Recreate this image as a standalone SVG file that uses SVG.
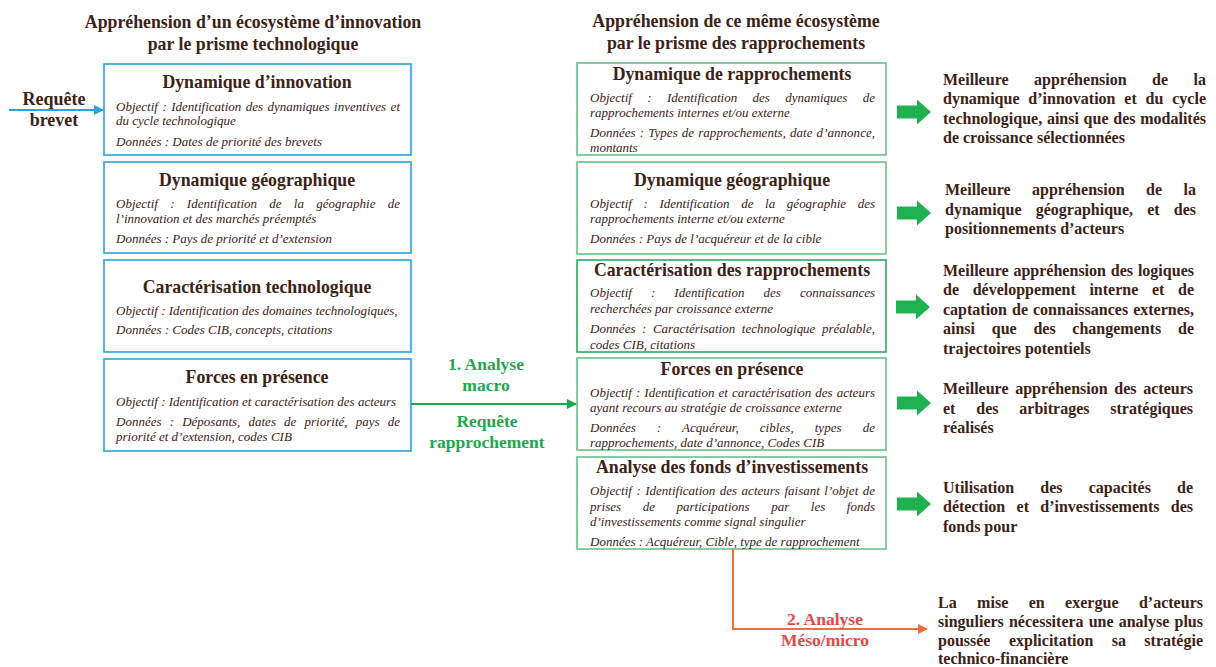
<svg xmlns="http://www.w3.org/2000/svg" xmlns:xlink="http://www.w3.org/1999/xlink" width="1216" height="667" viewBox="0 0 1216 667">
<style>
  text { font-family: "Liberation Serif", "Times New Roman", serif; fill: #3d2216; }
  .h { font-size: 17.8px; font-weight: bold; text-anchor: middle; }
  .t { font-size: 17.8px; font-weight: bold; text-anchor: middle; }
  .b { font-size: 13px; font-style: italic; }
  .r { font-size: 16px; font-weight: bold; }
  .bl { fill: #ffffff; stroke: #2aa3dc; stroke-width: 1.6; }
  .gr { fill: #ffffff; stroke: #66c287; stroke-width: 1.6; }
  .gr2 { fill: #ffffff; stroke: #2eaa5c; stroke-width: 1.6; }
  .lg { font-size: 17.5px; font-weight: bold; text-anchor: middle; fill: #1ea84e; }
  .lo { font-size: 17.5px; font-weight: bold; text-anchor: middle; fill: #e8474a; }
  .lb { font-size: 18px; font-weight: bold; text-anchor: middle; }
</style>
<defs>
  <marker id="ab" viewBox="0 0 10 10" refX="9" refY="5" markerWidth="5" markerHeight="5" orient="auto" markerUnits="strokeWidth"><path d="M0,0 L10,5 L0,10 z" fill="#2aa3dc"/></marker>
  <marker id="ag" viewBox="0 0 10 10" refX="9" refY="5" markerWidth="5" markerHeight="5" orient="auto" markerUnits="strokeWidth"><path d="M0,0 L10,5 L0,10 z" fill="#1aa84c"/></marker>
  <marker id="ao" viewBox="0 0 10 10" refX="9" refY="5" markerWidth="5" markerHeight="5" orient="auto" markerUnits="strokeWidth"><path d="M0,0 L10,5 L0,10 z" fill="#ef6c3c"/></marker>
  <path id="blk" d="M0,-6.5 L20,-6.5 L20,-12.5 L34,0 L20,12.5 L20,6.5 L0,6.5 z" fill="#1fb04f"/>
</defs>

<!-- Headings -->
<g id="heading-left">
  <text class="h" x="253" y="28">Appréhension d’un écosystème d’innovation</text>
  <text class="h" x="253" y="50">par le prisme technologique</text>
</g>
<g id="heading-right">
  <text class="h" x="736" y="27">Appréhension de ce même écosystème</text>
  <text class="h" x="736" y="49">par le prisme des rapprochements</text>
</g>

<!-- Left column -->
<g id="l1">
  <rect class="bl" x="104" y="64" width="307" height="91"/>
  <text class="t" x="257" y="88">Dynamique d’innovation</text>
  <text class="b" x="116" y="111" word-spacing="1.2" textLength="284" lengthAdjust="spacing">Objectif : Identification des dynamiques inventives et</text>
  <text class="b" x="116" y="125">du cycle technologique</text>
  <text class="b" x="116" y="146">Données : Dates de priorité des brevets</text>
</g>
<g id="l2">
  <rect class="bl" x="104" y="162" width="307" height="91"/>
  <text class="t" x="257" y="186">Dynamique géographique</text>
  <text class="b" x="116" y="208" word-spacing="9" textLength="284" lengthAdjust="spacing">Objectif : Identification de la géographie de</text>
  <text class="b" x="116" y="223">l’innovation et des marchés préemptés</text>
  <text class="b" x="116" y="243">Données : Pays de priorité et d’extension</text>
</g>
<g id="l3">
  <rect class="bl" x="104" y="260" width="307" height="92"/>
  <text class="t" x="257" y="293">Caractérisation technologique</text>
  <text class="b" x="116" y="315">Objectif : Identification des domaines technologiques,</text>
  <text class="b" x="116" y="334">Données : Codes CIB, concepts, citations</text>
</g>
<g id="l4">
  <rect class="bl" x="104" y="359" width="307" height="92"/>
  <text class="t" x="257" y="383">Forces en présence</text>
  <text class="b" x="116" y="406">Objectif : Identification et caractérisation des acteurs</text>
  <text class="b" x="116" y="426" word-spacing="4.9" textLength="284" lengthAdjust="spacing">Données : Déposants, dates de priorité, pays de</text>
  <text class="b" x="116" y="441">priorité et d’extension, codes CIB</text>
</g>

<!-- Right column -->
<g id="r1">
  <rect class="gr" x="577" y="63" width="309" height="92"/>
  <text class="t" x="732" y="80">Dynamique de rapprochements</text>
  <text class="b" x="590" y="102" word-spacing="12.1" textLength="285" lengthAdjust="spacing">Objectif : Identification des dynamiques de</text>
  <text class="b" x="590" y="117">rapprochements internes et/ou externe</text>
  <text class="b" x="590" y="137" word-spacing="0.8" textLength="285" lengthAdjust="spacing">Données : Types de rapprochements, date d’annonce,</text>
  <text class="b" x="590" y="152">montants</text>
</g>
<g id="r2">
  <rect class="gr" x="577" y="162" width="309" height="92"/>
  <text class="t" x="732" y="186">Dynamique géographique</text>
  <text class="b" x="590" y="208" word-spacing="8.4" textLength="285" lengthAdjust="spacing">Objectif : Identification de la géographie des</text>
  <text class="b" x="590" y="223">rapprochements interne et/ou externe</text>
  <text class="b" x="590" y="243">Données : Pays de l’acquéreur et de la cible</text>
</g>
<g id="r3">
  <rect class="gr2" x="577" y="260" width="309" height="92"/>
  <text class="t" x="732" y="276">Caractérisation des rapprochements</text>
  <text class="b" x="590" y="297" word-spacing="15.8" textLength="285" lengthAdjust="spacing">Objectif : Identification des connaissances</text>
  <text class="b" x="590" y="313">recherchées par croissance externe</text>
  <text class="b" x="590" y="333" word-spacing="3.3" textLength="285" lengthAdjust="spacing">Données : Caractérisation technologique préalable,</text>
  <text class="b" x="590" y="349">codes CIB, citations</text>
</g>
<g id="r4">
  <rect class="gr" x="577" y="358" width="309" height="92"/>
  <text class="t" x="732" y="375">Forces en présence</text>
  <text class="b" x="590" y="397" word-spacing="0.8" textLength="285" lengthAdjust="spacing">Objectif : Identification et caractérisation des acteurs</text>
  <text class="b" x="590" y="412">ayant recours au stratégie de croissance externe</text>
  <text class="b" x="590" y="432" word-spacing="17.6" textLength="285" lengthAdjust="spacing">Données : Acquéreur, cibles, types de</text>
  <text class="b" x="590" y="447">rapprochements, date d’annonce, Codes CIB</text>
</g>
<g id="r5">
  <rect class="gr" x="577" y="457" width="309" height="92"/>
  <text class="t" x="732" y="473">Analyse des fonds d’investissements</text>
  <text class="b" x="590" y="495" word-spacing="1.2" textLength="285" lengthAdjust="spacing">Objectif : Identification des acteurs faisant l’objet de</text>
  <text class="b" x="590" y="511" word-spacing="18.3" textLength="285" lengthAdjust="spacing">prises de participations par les fonds</text>
  <text class="b" x="590" y="526">d’investissements comme signal singulier</text>
  <text class="b" x="590" y="546">Données : Acquéreur, Cible, type de rapprochement</text>
</g>

<!-- Outcomes -->
<g id="o1">
  <text class="r" x="943" y="85" word-spacing="21.4" textLength="263" lengthAdjust="spacing">Meilleure appréhension de la</text>
  <text class="r" x="943" y="104" word-spacing="4.8" textLength="263" lengthAdjust="spacing">dynamique d’innovation et du cycle</text>
  <text class="r" x="943" y="124" word-spacing="0.7" textLength="263" lengthAdjust="spacing">technologique, ainsi que des modalités</text>
  <text class="r" x="943" y="143">de croissance sélectionnées</text>
</g>
<g id="o2">
  <text class="r" x="945" y="195" word-spacing="17.4" textLength="251" lengthAdjust="spacing">Meilleure appréhension de la</text>
  <text class="r" x="945" y="215" word-spacing="10.1" textLength="251" lengthAdjust="spacing">dynamique géographique, et des</text>
  <text class="r" x="945" y="234">positionnements d’acteurs</text>
</g>
<g id="o3">
  <text class="r" x="943" y="276" word-spacing="0.8" textLength="251" lengthAdjust="spacing">Meilleure appréhension des logiques</text>
  <text class="r" x="943" y="295" word-spacing="9.6" textLength="251" lengthAdjust="spacing">de développement interne et de</text>
  <text class="r" x="943" y="315" word-spacing="1" textLength="251" lengthAdjust="spacing">captation de connaissances externes,</text>
  <text class="r" x="943" y="334" word-spacing="12.7" textLength="251" lengthAdjust="spacing">ainsi que des changements de</text>
  <text class="r" x="943" y="354">trajectoires potentiels</text>
</g>
<g id="o4">
  <text class="r" x="943" y="394" word-spacing="2.6" textLength="250" lengthAdjust="spacing">Meilleure appréhension des acteurs</text>
  <text class="r" x="943" y="414" word-spacing="16.8" textLength="250" lengthAdjust="spacing">et des arbitrages stratégiques</text>
  <text class="r" x="943" y="433">réalisés</text>
</g>
<g id="o5">
  <text class="r" x="943" y="493" word-spacing="22.1" textLength="250" lengthAdjust="spacing">Utilisation des capacités de</text>
  <text class="r" x="943" y="512" word-spacing="7.3" textLength="250" lengthAdjust="spacing">détection et d’investissements des</text>
  <text class="r" x="943" y="532">fonds pour</text>
</g>
<g id="o6">
  <text class="r" x="938" y="608" word-spacing="16.4" textLength="265" lengthAdjust="spacing">La mise en exergue d’acteurs</text>
  <text class="r" x="938" y="627" word-spacing="1.1" textLength="265" lengthAdjust="spacing">singuliers nécessitera une analyse plus</text>
  <text class="r" x="938" y="646" word-spacing="14.4" textLength="265" lengthAdjust="spacing">poussée explicitation sa stratégie</text>
  <text class="r" x="938" y="664">technico-financière</text>
</g>

<!-- Connectors -->
<g id="connectors">
  <line x1="9" y1="110" x2="103" y2="110" stroke="#2aa3dc" stroke-width="2" marker-end="url(#ab)"/>
  <line x1="411" y1="404" x2="576" y2="404" stroke="#1aa84c" stroke-width="2" marker-end="url(#ag)"/>
  <polyline points="733,549 733,629 927,629" fill="none" stroke="#ef6c3c" stroke-width="2" marker-end="url(#ao)"/>
  <use xlink:href="#blk" x="897" y="112"/>
  <use xlink:href="#blk" x="897" y="213"/>
  <use xlink:href="#blk" x="896" y="307"/>
  <use xlink:href="#blk" x="897" y="403"/>
  <use xlink:href="#blk" x="897" y="504"/>
</g>

<!-- Connector labels -->
<g id="labels">
  <text class="lb" x="54" y="105">Requête</text>
  <text class="lb" x="54" y="126">brevet</text>
  <text class="lg" x="486" y="370">1. Analyse</text>
  <text class="lg" x="486" y="391">macro</text>
  <text class="lg" x="487" y="427">Requête</text>
  <text class="lg" x="487" y="448">rapprochement</text>
  <text class="lo" x="825" y="625">2. Analyse</text>
  <text class="lo" x="825" y="646">Méso/micro</text>
</g>
</svg>
